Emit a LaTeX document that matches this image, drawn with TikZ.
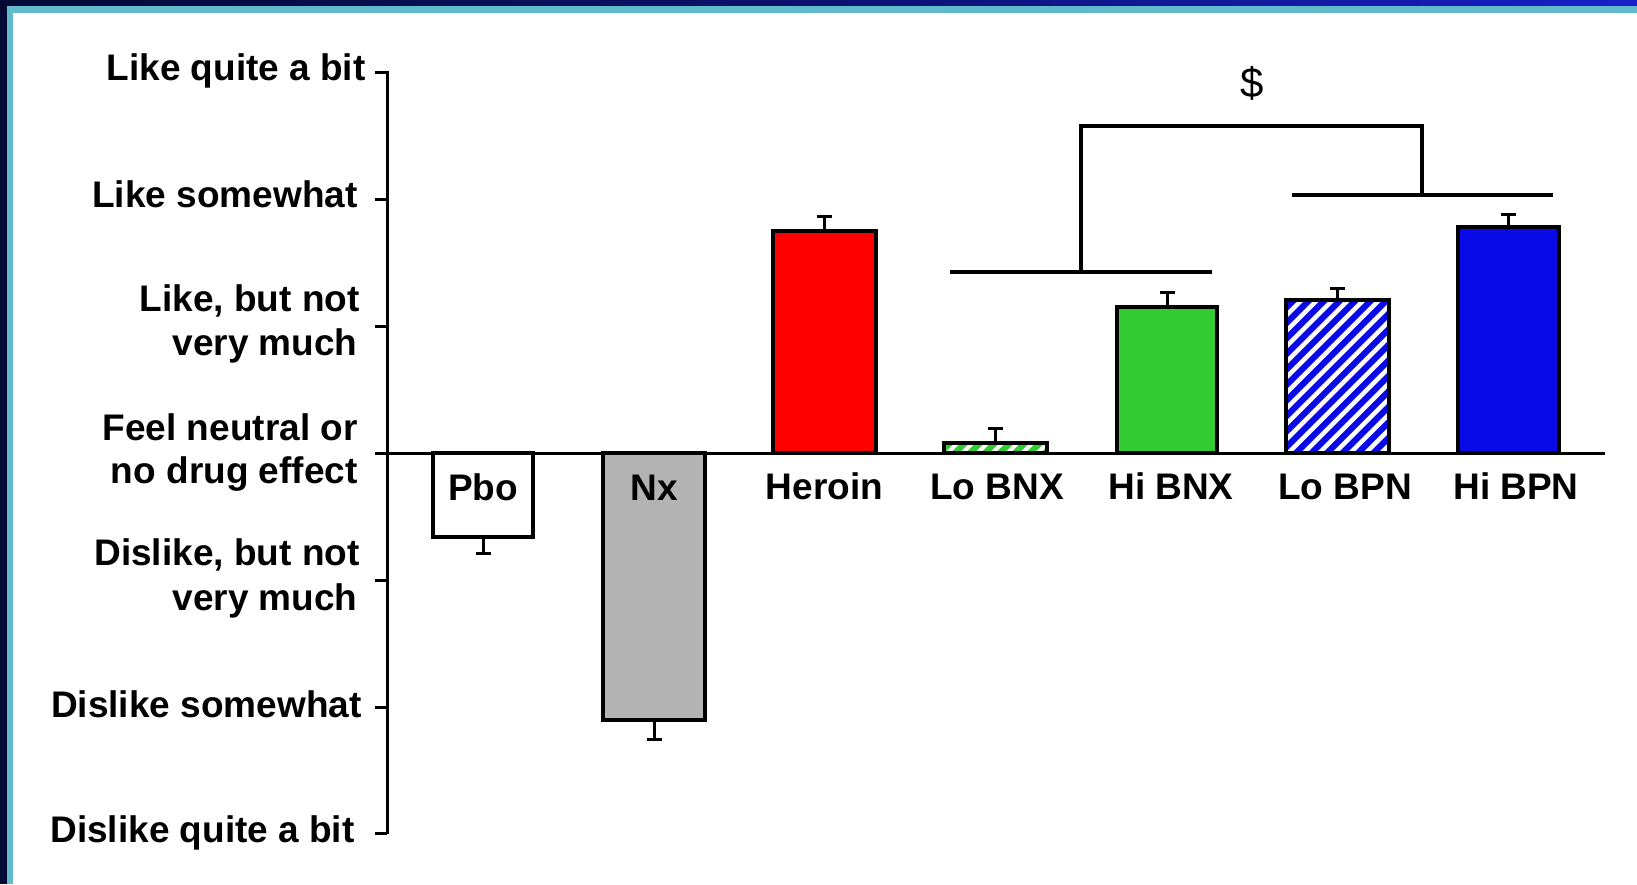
\documentclass[tikz,border=0pt]{standalone}
\usepackage{fontspec}
\setmainfont{Liberation Sans}
\definecolor{navy}{RGB}{2,10,52}
\definecolor{topblue}{RGB}{24,32,200}
\definecolor{teal}{RGB}{96,186,204}
\definecolor{barred}{RGB}{255,0,0}
\definecolor{bargreen}{RGB}{50,204,50}
\definecolor{barblue}{RGB}{10,10,230}
\definecolor{bargray}{RGB}{179,179,179}
\tikzset{
  axisline/.style={line width=1.5pt, black},
  barline/.style={line width=1.6pt, black},
  errline/.style={line width=1.5pt, black},
  bracketline/.style={line width=2pt, black},
  lab/.style={font=\fontsize{18.5}{22}\selectfont\bfseries, inner sep=0pt, anchor=base east},
  barlab/.style={font=\fontsize{18.5}{22}\selectfont\bfseries, inner sep=0pt, anchor=base},
  stripe/.style={line width=3.1pt}
}
\begin{document}
\begin{tikzpicture}[x=0.5pt, y=-0.5pt]
\useasboundingbox (0,0) rectangle (1637,884);
\fill[white] (0,0) rectangle (1637,884);
% frame
\shade[left color=navy, right color=topblue, middle color=navy!60!topblue] (0,0) rectangle (1637,6);
\fill[navy] (0,0) rectangle (7,884);
\fill[teal] (7,6) rectangle (1637,12.5);
\fill[teal] (7,6) rectangle (13,884);
% bars
\draw[barline, fill=white] (433,453) rectangle (533,537);
\draw[barline, fill=bargray] (603,453) rectangle (705,720);
\draw[barline, fill=barred] (773,453) rectangle (876,231);
\draw[barline, fill=bargreen] (1117,453) rectangle (1217,307);
\draw[barline, fill=barblue] (1458,453) rectangle (1559,227);
% Lo BNX striped
\begin{scope}
\clip (944,453) rectangle (1047,443);
\foreach \k in {-2,...,10} \draw[stripe, bargreen] (930+\k*15,463) -- ++(40,-40);
\end{scope}
\draw[barline] (944,453) rectangle (1047,443);
% Lo BPN striped
\begin{scope}
\clip (1286,453) rectangle (1389,300);
\foreach \k in {-12,...,9} \draw[stripe, barblue] (1286+\k*15.5,463) -- ++(180,-180);
\end{scope}
\draw[barline] (1286,453) rectangle (1389,300);
% error bars
\draw[errline] (483,537) -- (483,553) (476,553) -- (491,553);
\draw[errline] (654,720) -- (654,739) (647,739) -- (662,739);
\draw[errline] (824.5,231) -- (824.5,216) (817,216) -- (832,216);
\draw[errline] (995.5,443) -- (995.5,428) (988,428) -- (1003,428);
\draw[errline] (1167,307) -- (1167,292) (1160,292) -- (1175,292);
\draw[errline] (1337.5,300) -- (1337.5,288) (1330,288) -- (1345,288);
\draw[errline] (1508.5,227) -- (1508.5,214) (1501,214) -- (1516,214);
% axes
\draw[axisline] (387,71) -- (387,834);
\draw[axisline] (387,453) -- (1605,453);
\foreach \t in {72,199,326,453,580,707,833} \draw[axisline] (375,\t) -- (387,\t);
% brackets
\draw[bracketline] (950,272) -- (1212,272);
\draw[bracketline] (1081,272) -- (1081,126) -- (1422,126) -- (1422,195);
\draw[bracketline] (1292,195) -- (1553,195);
\node[font=\fontsize{21}{25}\selectfont, inner sep=0pt, anchor=base] (dollar) at (1252,97) {\$};
% y labels
\node[lab] (y1) at (366,80) {Like quite a bit};
\node[lab] (y2) at (358,207) {Like somewhat};
\node[lab] (y3a) at (360,311) {Like, but not};
\node[lab] (y3b) at (358,355) {very much};
\node[lab] (y4a) at (358,440) {Feel neutral or};
\node[lab] (y4b) at (358,483) {no drug effect};
\node[lab] (y5a) at (360,565) {Dislike, but not};
\node[lab] (y5b) at (358,610) {very much};
\node[lab] (y6) at (362,717) {Dislike somewhat};
\node[lab] (y7) at (355,842) {Dislike quite a bit};
% bar labels
\node[barlab] (pbo) at (483,500) {Pbo};
\node[barlab] (nx) at (654,500) {Nx};
\node[barlab] (heroin) at (824.5,499) {Heroin};
\node[barlab] (lobnx) at (997,499) {Lo BNX};
\node[barlab] (hibnx) at (1171,499) {Hi BNX};
\node[barlab] (lobpn) at (1345,499) {Lo BPN};
\node[barlab] (hibpn) at (1516,499) {Hi BPN};
\end{tikzpicture}
\end{document}
